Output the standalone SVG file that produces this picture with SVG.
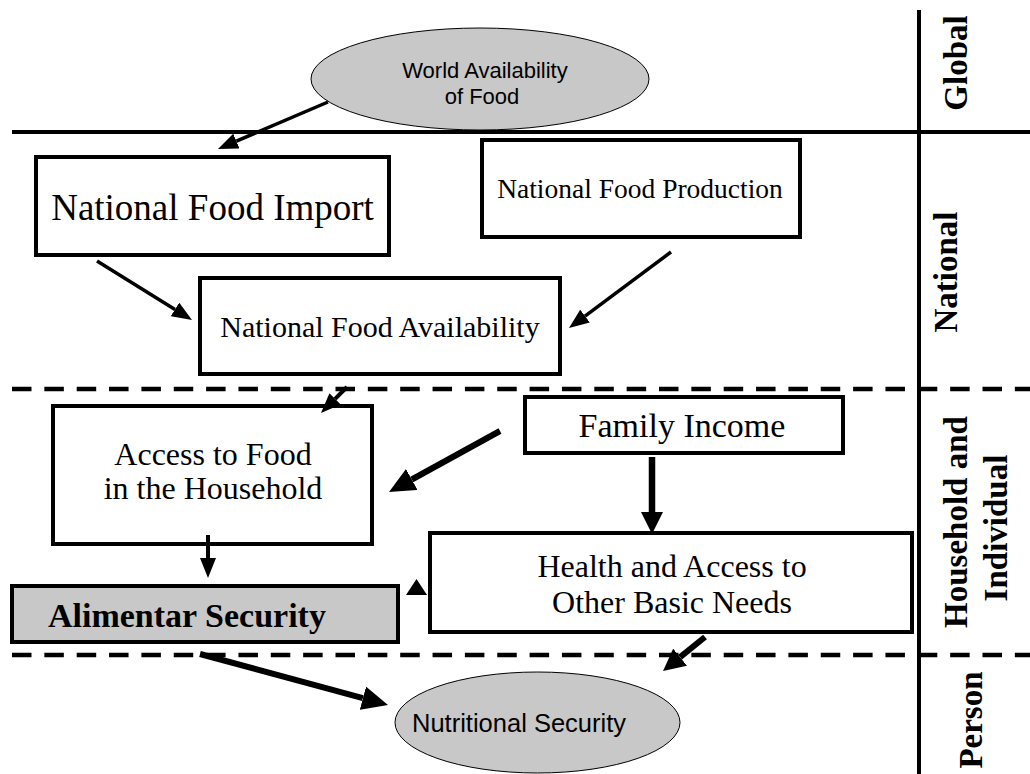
<svg xmlns="http://www.w3.org/2000/svg" width="1030" height="774" viewBox="0 0 1030 774">
<style>
.box{fill:#fff;stroke:#000;stroke-width:4}
.grey{fill:#c8c8c8}
.ell{fill:#c8c8c8;stroke:#000;stroke-width:1}
.serif{font-family:"Liberation Serif","Times New Roman",serif;fill:#000}
.sans{font-family:"Liberation Sans",Arial,sans-serif;fill:#000}
.lbl{font-family:"Liberation Serif","Times New Roman",serif;font-weight:bold;font-size:33px;text-anchor:middle;fill:#000}
.c{text-anchor:middle}
.div{stroke:#000;stroke-width:4;fill:none}
.dash{stroke:#000;stroke-width:4.5;stroke-dasharray:19.5 12.85;fill:none}
.con{stroke:#000;fill:none}
</style>
<defs>
<marker id="hs" markerUnits="userSpaceOnUse" markerWidth="20" markerHeight="16" refX="0" refY="8" orient="auto"><path d="M0,0 L20,8 L0,16 z" fill="#000"/></marker>
<marker id="hm" markerUnits="userSpaceOnUse" markerWidth="22" markerHeight="22" refX="0" refY="11" orient="auto"><path d="M0,0 L22,11 L0,22 z" fill="#000"/></marker>
<marker id="hl" markerUnits="userSpaceOnUse" markerWidth="26" markerHeight="24" refX="0" refY="12" orient="auto"><path d="M0,0 L26,12 L0,24 z" fill="#000"/></marker>
</defs>
<rect width="1030" height="774" fill="#fff"/>

<g id="dividers">
<line class="div" x1="12" y1="132" x2="1030" y2="132"/>
<line class="dash" x1="12" y1="389" x2="1030" y2="389"/>
<line class="dash" x1="12" y1="655" x2="1030" y2="655"/>
<line class="div" x1="919" y1="10" x2="919" y2="774"/>
</g>

<g id="level-labels">
<text class="lbl" transform="translate(967,63) rotate(-90)">Global</text>
<text class="lbl" transform="translate(957,272) rotate(-90)">National</text>
<text class="lbl" transform="translate(967,522) rotate(-90)">Household and</text>
<text class="lbl" transform="translate(1007,528) rotate(-90)">Individual</text>
<text class="lbl" transform="translate(982,720) rotate(-90)">Person</text>
</g>

<g id="world">
<ellipse class="ell" cx="480" cy="79" rx="169" ry="51"/>
<text class="sans c" x="485" y="78" font-size="22">World Availability</text>
<text class="sans c" x="482" y="104" font-size="22">of Food</text>
</g>

<g id="import">
<rect class="box" x="36" y="157" width="353" height="98"/>
<text class="serif c" x="212.5" y="220" font-size="37">National Food Import</text>
</g>

<g id="production">
<rect class="box" x="482" y="140" width="318" height="97"/>
<text class="serif c" x="640" y="198" font-size="27.5">National Food Production</text>
</g>

<g id="availability">
<rect class="box" x="200" y="278" width="360" height="96"/>
<text class="serif c" x="380" y="337" font-size="30">National Food Availability</text>
</g>

<g id="access">
<rect class="box" x="53" y="406" width="319" height="138"/>
<text class="serif c" x="213" y="465" font-size="32">Access to Food</text>
<text class="serif c" x="213" y="499" font-size="32">in the Household</text>
</g>

<g id="income">
<rect class="box" x="525" y="397" width="318" height="56"/>
<text class="serif c" x="682" y="437" font-size="34">Family Income</text>
</g>

<g id="health">
<rect class="box" x="430" y="533" width="482" height="99"/>
<text class="serif c" x="672" y="577" font-size="32">Health and Access to</text>
<text class="serif c" x="672" y="613" font-size="32">Other Basic Needs</text>
</g>

<g id="alimentar">
<rect class="box grey" x="12" y="586" width="386" height="56"/>
<text class="serif" x="48" y="627" font-size="34" font-weight="bold">Alimentar Security</text>
</g>

<g id="nutritional">
<ellipse class="ell" cx="537.5" cy="722.5" rx="142.5" ry="50.5"/>
<text class="sans" x="412" y="732" font-size="25.5">Nutritional Security</text>
</g>

<g id="connectors">
<line class="con" stroke-width="3.5" x1="328" y1="102" x2="236.4" y2="141.1" marker-end="url(#hs)"/>
<line class="con" stroke-width="3.5" x1="97" y1="261" x2="175" y2="309.4" marker-end="url(#hs)"/>
<line class="con" stroke-width="3.5" x1="671" y1="252" x2="585" y2="316.1" marker-end="url(#hs)"/>
<line class="con" stroke-width="4" x1="347" y1="387" x2="335.1" y2="398.9" marker-end="url(#hs)"/>
<line class="con" stroke-width="6" x1="500" y1="431" x2="411.8" y2="479.5" marker-end="url(#hl)"/>
<line class="con" stroke-width="6.5" x1="652" y1="457" x2="652" y2="512" marker-end="url(#hm)"/>
<line class="con" stroke-width="4" x1="208" y1="535" x2="208" y2="558" marker-end="url(#hs)"/>
<polygon points="406,595 427,595 416.5,579" fill="#000"/>
<line class="con" stroke-width="6" x1="705" y1="637" x2="680.1" y2="657.2" marker-end="url(#hm)"/>
<line class="con" stroke-width="6" x1="200" y1="654" x2="362.9" y2="698.2" marker-end="url(#hl)"/>
</g>
</svg>
